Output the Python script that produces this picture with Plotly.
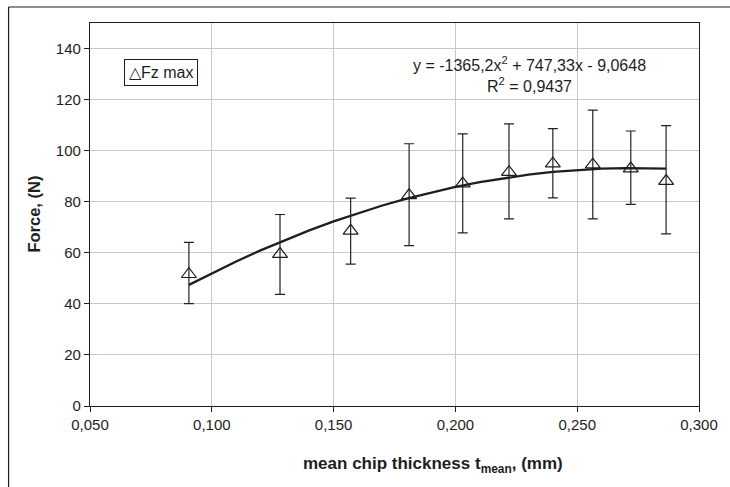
import plotly.graph_objects as go

# Data
thickness = [0.0906, 0.128, 0.157, 0.181, 0.203, 0.222, 0.240, 0.2564, 0.272, 0.2865]
fz_max = [51.6, 59.5, 68.6, 82.5, 87.1, 91.6, 94.9, 94.5, 93.0, 88.1]
err_upper = [64.1, 75.0, 81.4, 102.7, 106.6, 110.5, 108.6, 115.9, 107.7, 109.8]
err_lower = [40.1, 43.7, 55.6, 62.8, 67.8, 73.3, 81.5, 73.3, 79.0, 67.4]

# Polynomial trendline coefficients shown on the chart (a2, a1, a0)
trend_coef = [-1365.2, 747.33, -9.0648]
trend_x = [0.0906, 0.10, 0.11, 0.12, 0.13, 0.14, 0.15, 0.16, 0.17, 0.18, 0.19, 0.20,
           0.21, 0.22, 0.23, 0.24, 0.25, 0.26, 0.27, 0.2737, 0.28, 0.2865]
trend_y = [trend_coef[0] * x * x + trend_coef[1] * x + trend_coef[2] for x in trend_x]

x_ticks = [0.05, 0.10, 0.15, 0.20, 0.25, 0.30]
y_ticks = [0, 20, 40, 60, 80, 100, 120, 140]

FONT = "Liberation Sans, Arial, sans-serif"
INK = "#1e1e1e"

fig = go.Figure()

fig.add_trace(go.Scatter(
    x=trend_x, y=trend_y, mode="lines",
    line=dict(color=INK, width=2.3),
    showlegend=False, hoverinfo="skip",
))

fig.add_trace(go.Scatter(
    x=thickness, y=fz_max, mode="markers", name="Fz max",
    marker=dict(symbol="triangle-up-open", size=13, color=INK,
                line=dict(width=1.2, color=INK)),
    error_y=dict(type="data", symmetric=False,
                 array=[u - v for u, v in zip(err_upper, fz_max)],
                 arrayminus=[v - l for v, l in zip(fz_max, err_lower)],
                 color="#222222", thickness=1.2, width=5),
    showlegend=False,
))

fig.update_layout(
    width=730, height=487,
    margin=dict(l=90, r=19, t=23, b=81),
    paper_bgcolor="white", plot_bgcolor="white",
    separators=", ",
    font=dict(family=FONT, size=15, color=INK),
    showlegend=False,
    annotations=[
        dict(text="y = -1365,2x<sup>2</sup> + 747,33x - 9,0648<br>R<sup>2</sup> = 0,9437",
             xref="paper", yref="paper", x=0.722, y=0.865,
             xanchor="center", yanchor="middle", showarrow=False, align="center",
             font=dict(size=16, family=FONT, color=INK)),
        dict(text="△Fz max",
             xref="paper", yref="paper", x=0.1166, y=0.8708,
             xanchor="center", yanchor="middle", showarrow=False,
             bordercolor=INK, borderwidth=1, borderpad=4, bgcolor="white",
             font=dict(size=16, family=FONT, color=INK)),
        dict(text="<b>mean chip thickness t<sub>mean</sub>, (mm)</b>",
             xref="paper", yref="paper", x=0.5636, y=-0.154,
             xanchor="center", yanchor="middle", showarrow=False,
             font=dict(size=17, family=FONT, color=INK)),
        dict(text="<b>Force, (N)</b>", textangle=-90,
             xref="paper", yref="paper", x=-0.0934, y=0.5,
             xanchor="center", yanchor="middle", showarrow=False,
             font=dict(size=16.5, family=FONT, color=INK)),
    ],
    shapes=[
        dict(type="line", xref="paper", yref="paper",
             x0=-0.1337, y0=1.0418, x1=1.2, y1=1.0418,
             line=dict(color=INK, width=1.2), layer="below"),
        dict(type="line", xref="paper", yref="paper",
             x0=-0.1337, y0=-0.4, x1=-0.1337, y1=1.0418,
             line=dict(color=INK, width=1.2), layer="below"),
    ],
)

fig.update_xaxes(
    range=[0.05, 0.30], tickvals=x_ticks, tickformat=".3f",
    showgrid=True, gridcolor="#c8c8c8", gridwidth=1,
    showline=True, linecolor=INK, linewidth=1.2, mirror=True,
    ticks="outside", ticklen=5, tickcolor=INK,
    tickfont=dict(size=15), zeroline=False,
)
fig.update_yaxes(
    range=[0, 150], tickvals=y_ticks,
    showgrid=True, gridcolor="#c8c8c8", gridwidth=1,
    showline=True, linecolor=INK, linewidth=1.2, mirror=True,
    ticks="outside", ticklen=5, tickcolor=INK,
    tickfont=dict(size=15), zeroline=False,
)

fig.write_html("out.html", config={"displayModeBar": False},
               post_script="document.body.style.margin='0';document.body.style.overflow='hidden';")
